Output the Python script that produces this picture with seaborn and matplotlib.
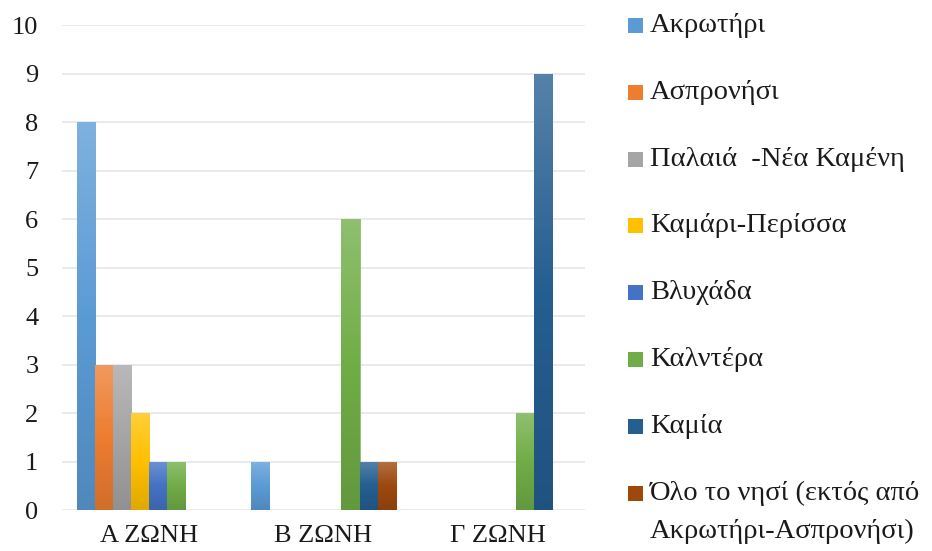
import numpy as np
import pandas as pd
import matplotlib
matplotlib.use("Agg")
import matplotlib.pyplot as plt
import matplotlib.colors as mcolors
from matplotlib.patches import Rectangle
import seaborn as sns

# δεδομένα
zones = ["Α ΖΩΝΗ", "Β ΖΩΝΗ", "Γ ΖΩΝΗ"]
areas = ["Ακρωτήρι", "Ασπρονήσι", "Παλαιά  -Νέα Καμένη", "Καμάρι-Περίσσα",
         "Βλυχάδα", "Καλντέρα", "Καμία",
         "Όλο το νησί (εκτός από\nΑκρωτήρι-Ασπρονήσι)"]
zone_a = [8, 3, 3, 2, 1, 1, 0, 0]
zone_b = [1, 0, 0, 0, 0, 6, 1, 1]
zone_c = [0, 0, 0, 0, 0, 2, 9, 0]
colors = ["#5B9BD5", "#ED7D31", "#A5A5A5", "#FFC000",
          "#4472C4", "#70AD47", "#255E91", "#9E480E"]

rows = []
for zone, vals in zip(zones, [zone_a, zone_b, zone_c]):
    for area, v in zip(areas, vals):
        rows.append({"zone": zone, "area": area, "count": v})
df = pd.DataFrame(rows)

sns.set_style("white")
plt.rcParams["font.family"] = ["Liberation Serif", "DejaVu Serif"]

W, H = 932, 551
fig = plt.figure(figsize=(W / 100, H / 100), dpi=100)
ax = fig.add_axes([0.0665, 0.0744, 0.561, 0.880])

sns.barplot(data=df, x="zone", y="count", hue="area", order=zones,
            hue_order=areas, palette=colors, width=0.83, dodge=True,
            saturation=1, legend=False, ax=ax, zorder=3)

# Excel-style gradient on bars
for patch in ax.patches:
    h = patch.get_height()
    if h <= 0:
        patch.set_visible(False)
        continue
    base = np.array(mcolors.to_rgb(patch.get_facecolor()))
    top = base + (1 - base) * 0.22
    bot = base * 0.88
    cmap = mcolors.LinearSegmentedColormap.from_list("g", [bot, base, top])
    x0 = patch.get_x()
    w = patch.get_width()
    grad = np.linspace(0, 1, 100).reshape(-1, 1)
    im = ax.imshow(grad, cmap=cmap, origin="lower", aspect="auto",
                   extent=[x0, x0 + w, 0, h], zorder=4)
    im.set_clip_path(patch)
    patch.set_edgecolor(top)
    patch.set_linewidth(0.6)

ax.set_xlim(-0.5, 2.5)
ax.set_ylim(0, 10)
ax.set_yticks(range(0, 11))
ax.yaxis.grid(True, color="#E3E6EC", linewidth=1.2, zorder=0)
ax.set_axisbelow(True)
for s in ax.spines.values():
    s.set_visible(False)
ax.set_xlabel("")
ax.set_ylabel("")
ax.tick_params(axis="both", length=0, labelsize=19, colors="#1a1a1a")
ax.tick_params(axis="x", pad=11)
ax.tick_params(axis="y", pad=17)

# υπόμνημα (legend), χειροποίητο για να ταιριάζει η στοίχιση
y0, step = 25.5, 66.8
for i, (lab, c) in enumerate(zip(areas, colors)):
    yc = y0 + step * i
    fig.patches.append(Rectangle((628 / W, 1 - (yc + 7.5) / H), 15 / W, 15 / H,
                                 transform=fig.transFigure, facecolor=c,
                                 edgecolor="none"))
    lines = lab.split("\n")
    for k, line in enumerate(lines):
        fig.text(650 / W, 1 - (yc + 38 * k) / H, line, fontsize=20.5,
                 color="#1a1a1a", ha="left", va="center")

fig.savefig("out.png", dpi=100)
